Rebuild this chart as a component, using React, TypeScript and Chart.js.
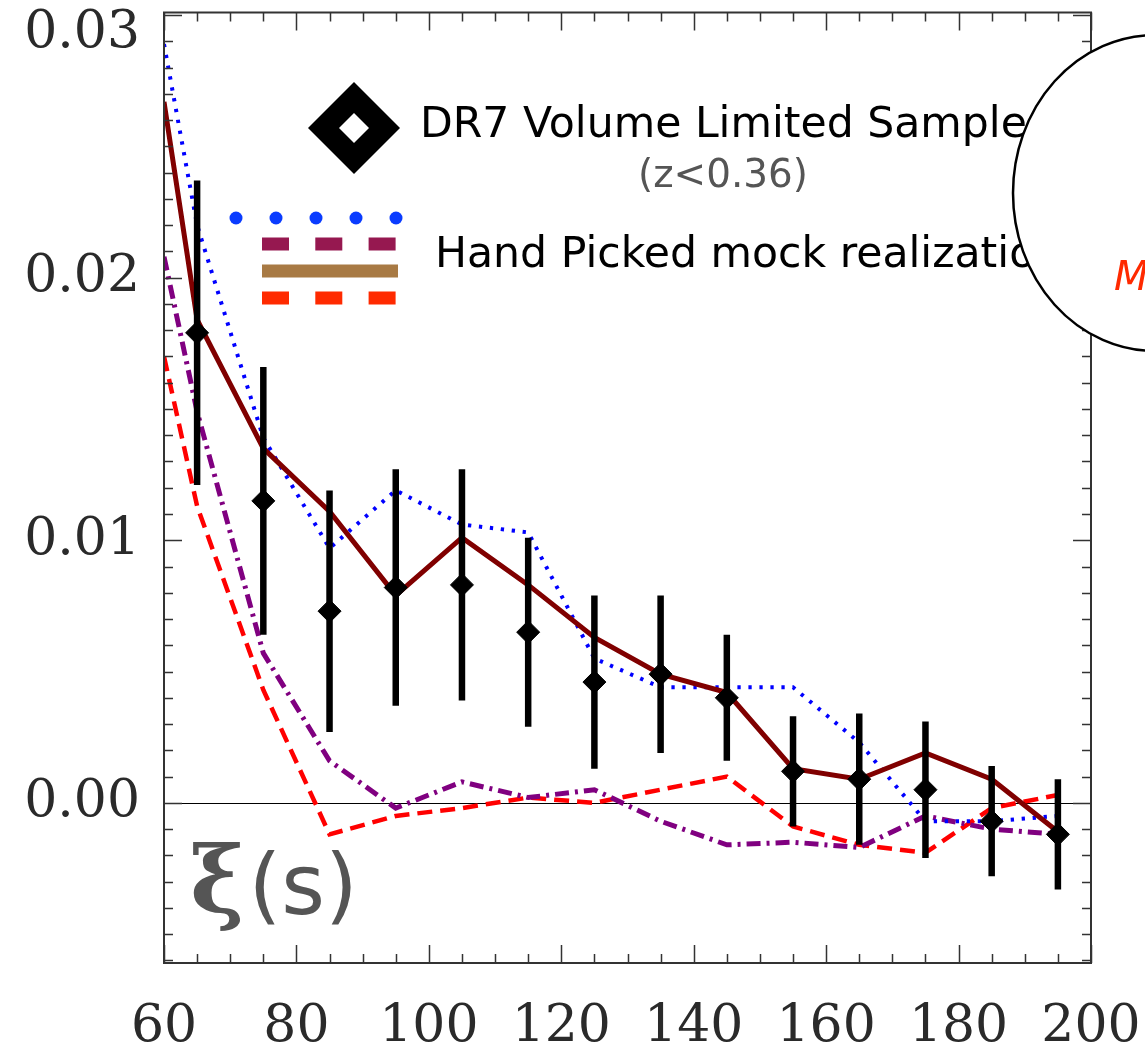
import React, { useEffect, useRef } from 'react';
import { Chart, registerables } from 'chart.js';

Chart.register(...registerables);

// ---- data ----
const sepBins = [65, 75, 85, 95, 105, 115, 125, 135, 145, 155, 165, 175, 185, 195];
const dr7Xi = [0.0179, 0.0115, 0.0073, 0.0082, 0.0083, 0.0065, 0.0046, 0.0049, 0.0040, 0.0012, 0.0009, 0.0005, -0.0007, -0.0012];
const dr7Err = [0.0058, 0.0051, 0.0046, 0.0045, 0.0044, 0.0036, 0.0033, 0.0030, 0.0024, 0.0021, 0.0025, 0.0026, 0.0021, 0.0021];

const mockX = [60, 65, 75, 85, 95, 105, 115, 125, 135, 145, 155, 165, 175, 185, 195];
const mockBlue = [0.0289, 0.0220, 0.0139, 0.0097, 0.0119, 0.0106, 0.0103, 0.0055, 0.0044, 0.0044, 0.0044, 0.0023, -0.0007, -0.0007, -0.0005];
const mockMaroon = [0.0267, 0.0184, 0.0135, 0.0111, 0.0079, 0.0101, 0.0083, 0.0063, 0.0049, 0.0042, 0.0013, 0.0009, 0.0019, 0.0009, -0.0011];
const mockPurple = [0.0208, 0.0149, 0.0057, 0.0016, -0.0002, 0.0008, 0.0002, 0.0005, -0.0007, -0.0016, -0.0015, -0.0017, -0.0005, -0.0010, -0.0012];
const mockRed = [0.0170, 0.0113, 0.0043, -0.0012, -0.0005, -0.0002, 0.0002, 0.0000, 0.0005, 0.0010, -0.0009, -0.0016, -0.0019, -0.0002, 0.0003];

const xTickLabels = [60, 80, 100, 120, 140, 160, 180, 200];
const yTickLabels = [0.0, 0.01, 0.02, 0.03];

const legendMain = 'DR7 Volume Limited Sample';
const legendSub = '(z<0.36)';
const legendMock = 'Hand Picked mock realizations';
const panelXi = 'ξ';
const panelArg = '(s)';
const bubbleText = 'Mocks';

const W = 1145;
const H = 1054;

const toXY = (xs: number[], ys: number[]) => xs.map((x, i) => ({ x, y: ys[i] }));

const decorPlugin = {
  id: 'decor',
  beforeDatasetsDraw(chart: any) {
    const { ctx, chartArea: a, scales } = chart;
    const y = scales.y;
    ctx.save();
    ctx.strokeStyle = '#000';
    ctx.lineWidth = 1;
    const y0 = Math.round(y.getPixelForValue(0)) + 0.5;
    ctx.beginPath();
    ctx.moveTo(a.left, y0);
    ctx.lineTo(a.right, y0);
    ctx.stroke();
    ctx.restore();
  },
  beforeDatasetDraw(chart: any, args: any) {
    if (args.index !== 0) return;
    const { ctx, chartArea: a, scales } = chart;
    const x = scales.x;
    const y = scales.y;
    ctx.save();
    ctx.beginPath();
    ctx.rect(a.left, a.top, a.right - a.left, a.bottom - a.top);
    ctx.clip();
    ctx.strokeStyle = '#000';
    ctx.lineWidth = 6.5;
    ctx.lineCap = 'butt';
    ctx.beginPath();
    sepBins.forEach((s, i) => {
      const px = x.getPixelForValue(s);
      ctx.moveTo(px, y.getPixelForValue(dr7Xi[i] + dr7Err[i]));
      ctx.lineTo(px, y.getPixelForValue(dr7Xi[i] - dr7Err[i]));
    });
    ctx.stroke();
    ctx.restore();
  },
  afterDatasetsDraw(chart: any) {
    const { ctx, chartArea: a, scales } = chart;
    const x = scales.x;
    const y = scales.y;

    // frame
    ctx.save();
    ctx.strokeStyle = '#333';
    ctx.lineWidth = 2;
    ctx.strokeRect(a.left, a.top, a.right - a.left, a.bottom - a.top);
    // ticks
    ctx.lineWidth = 1.5;
    ctx.beginPath();
    for (let v = 60; v <= 200; v += 5) {
      const px = Math.round(x.getPixelForValue(v)) + 0.5;
      const len = v % 20 === 0 ? 18 : 9;
      ctx.moveTo(px, a.bottom);
      ctx.lineTo(px, a.bottom - len);
      ctx.moveTo(px, a.top);
      ctx.lineTo(px, a.top + len);
    }
    for (let k = -6; k <= 30; k++) {
      const py = Math.round(y.getPixelForValue(k / 1000)) + 0.5;
      const len = k % 10 === 0 ? 18 : 9;
      ctx.moveTo(a.left, py);
      ctx.lineTo(a.left + len, py);
      ctx.moveTo(a.right, py);
      ctx.lineTo(a.right - len, py);
    }
    ctx.stroke();
    ctx.restore();

    // y tick labels
    ctx.save();
    ctx.fillStyle = '#2a2a2a';
    ctx.font = '52px "DejaVu Serif"';
    ctx.textAlign = 'right';
    ctx.textBaseline = 'middle';
    yTickLabels.forEach((v) => {
      const py = Math.max(y.getPixelForValue(v), 33);
      ctx.fillText(v.toFixed(2), a.left - 24, py);
    });
    ctx.restore();

    // legend
    ctx.save();
    const dcx = 354, dcy = 128;
    ctx.fillStyle = '#000';
    ctx.beginPath();
    ctx.moveTo(dcx - 46, dcy); ctx.lineTo(dcx, dcy - 46); ctx.lineTo(dcx + 46, dcy); ctx.lineTo(dcx, dcy + 46);
    ctx.closePath();
    ctx.fill();
    ctx.fillStyle = '#fff';
    ctx.beginPath();
    ctx.moveTo(dcx - 15, dcy); ctx.lineTo(dcx, dcy - 15); ctx.lineTo(dcx + 15, dcy); ctx.lineTo(dcx, dcy + 15);
    ctx.closePath();
    ctx.fill();

    ctx.font = '40px "DejaVu Sans"';
    const m = ctx.measureText(legendMain).width;
    const fs = 40 * 607 / m;
    ctx.font = `${fs}px "DejaVu Sans"`;
    ctx.fillStyle = '#000';
    ctx.textBaseline = 'alphabetic';
    ctx.fillText(legendMain, 420, 137);
    ctx.fillText(legendMock, 435, 267);

    ctx.font = '30px "DejaVu Sans"';
    const m2 = ctx.measureText(legendSub).width;
    ctx.font = `${30 * 170 / m2}px "DejaVu Sans"`;
    ctx.fillStyle = '#555';
    ctx.fillText(legendSub, 638, 187);

    // legend line samples
    ctx.fillStyle = '#0A3CFF';
    for (let i = 0; i < 5; i++) {
      ctx.beginPath();
      ctx.arc(236 + i * 40, 218, 6.5, 0, Math.PI * 2);
      ctx.fill();
    }
    const dashRow = (color: string, yc: number) => {
      ctx.fillStyle = color;
      for (let i = 0; i < 3; i++) ctx.fillRect(262 + i * 53.3, yc - 6.5, 27, 13);
    };
    dashRow('#961850', 244);
    ctx.fillStyle = '#A87A44';
    ctx.fillRect(262, 271 - 6.5, 136, 13);
    dashRow('#FF2A00', 298);

    // panel label
    ctx.fillStyle = '#555';
    ctx.font = 'bold 92px "DejaVu Serif"';
    ctx.fillText(panelXi, 190, 912);
    const xw = ctx.measureText(panelXi).width;
    ctx.font = '84px "DejaVu Sans"';
    ctx.fillText(panelArg, 190 + xw + 4, 914);
    ctx.restore();
  },
  afterDraw(chart: any) {
    const { ctx } = chart;
    ctx.save();
    ctx.beginPath();
    ctx.ellipse(1155, 193, 142, 158, 0, 0, Math.PI * 2);
    ctx.fillStyle = '#fff';
    ctx.fill();
    ctx.strokeStyle = '#000';
    ctx.lineWidth = 2.5;
    ctx.stroke();
    ctx.font = 'italic 40px "DejaVu Sans"';
    ctx.fillStyle = '#FF2A00';
    ctx.fillText(bubbleText, 1114, 290);
    ctx.restore();
  },
};

export default function App() {
  const ref = useRef<HTMLCanvasElement | null>(null);
  useEffect(() => {
    if (!ref.current) return;
    const chart = new Chart(ref.current, {
      type: 'line',
      data: {
        datasets: [
          {
            label: 'DR7 Volume Limited Sample',
            data: toXY(sepBins, dr7Xi),
            showLine: false,
            pointStyle: 'rectRot',
            pointRadius: 11.5,
            pointBackgroundColor: '#000000',
            pointBorderColor: '#000000',
            pointBorderWidth: 1,
          },
          {
            label: 'mock maroon',
            data: toXY(mockX, mockMaroon),
            borderColor: '#800000',
            borderWidth: 5,
            pointRadius: 0,
            tension: 0,
          },
          {
            label: 'mock blue',
            data: toXY(mockX, mockBlue),
            borderColor: '#0000FF',
            borderWidth: 4,
            borderDash: [3.3, 7.7],
            pointRadius: 0,
            tension: 0,
          },
          {
            label: 'mock purple',
            data: toXY(mockX, mockPurple),
            borderColor: '#800080',
            borderWidth: 5,
            borderDash: [14, 6, 3, 6],
            pointRadius: 0,
            tension: 0,
          },
          {
            label: 'mock red',
            data: toXY(mockX, mockRed),
            borderColor: '#FF0000',
            borderWidth: 4.5,
            borderDash: [15, 8],
            pointRadius: 0,
            tension: 0,
          },
        ],
      },
      options: {
        animation: false,
        responsive: true,
        maintainAspectRatio: false,
        layout: { padding: { left: 0, right: 54, top: 12, bottom: 0 } },
        plugins: { legend: { display: false }, tooltip: { enabled: false } },
        scales: {
          x: {
            type: 'linear',
            min: 60,
            max: 200,
            grid: { display: false, drawTicks: false },
            border: { display: false },
            afterBuildTicks: (s: any) => {
              s.ticks = xTickLabels.map((v) => ({ value: v }));
            },
            afterFit: (s: any) => {
              s.height = 91;
              s.paddingLeft = 0;
              s.paddingRight = 0;
            },
            ticks: {
              font: { family: 'DejaVu Serif', size: 52 },
              color: '#2a2a2a',
              padding: 33,
              maxRotation: 0,
              autoSkip: false,
              callback: (v: any) => String(v),
            },
          },
          y: {
            type: 'linear',
            min: -0.0061,
            max: 0.0301,
            grid: { display: false, drawTicks: false },
            border: { display: false },
            afterBuildTicks: (s: any) => {
              s.ticks = yTickLabels.map((v) => ({ value: v }));
            },
            afterFit: (s: any) => {
              s.width = 164;
              s.paddingTop = 0;
              s.paddingBottom = 0;
            },
            ticks: { display: false },
          },
        },
      },
      plugins: [decorPlugin],
    } as any);
    return () => chart.destroy();
  }, []);
  return (
    <div style={{ position: 'absolute', left: 0, top: 0, width: W, height: H, background: '#fff' }}>
      <canvas ref={ref} />
    </div>
  );
}
